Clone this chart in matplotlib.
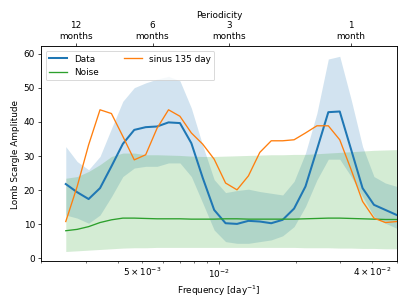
import matplotlib
matplotlib.use("Agg")
import matplotlib.pyplot as plt
from matplotlib.ticker import FixedLocator, FuncFormatter, NullLocator, LogLocator

# Frequencies [1/day]
freq = [0.002500, 0.002772, 0.003074, 0.003408, 0.003779, 0.004190, 0.004646,
        0.005152, 0.005712, 0.006334, 0.007023, 0.007787, 0.008634, 0.009574,
        0.010615, 0.011770, 0.013051, 0.014471, 0.016045, 0.017791, 0.019727,
        0.021873, 0.024253, 0.026892, 0.029818, 0.033062, 0.036659, 0.040648,
        0.045071, 0.050000]

data = [21.7, 19.3, 17.3, 20.5, 26.9, 33.5, 37.6, 38.4, 38.6, 39.8, 39.6,
        33.7, 23.5, 14.1, 10.2, 10.0, 10.9, 10.7, 10.2, 11.2, 14.5, 21.0,
        31.8, 42.8, 43.0, 31.8, 20.5, 15.6, 14.1, 12.6]
data_lo = [12.6, 11.7, 10.2, 12.6, 18.0, 23.9, 26.4, 26.9, 26.9, 27.9, 27.9,
           23.9, 16.1, 8.2, 4.8, 4.3, 4.3, 4.8, 5.3, 6.5, 9.2, 15.1,
           22.9, 29.0, 29.0, 23.9, 18.0, 12.2, 10.2, 8.7]
data_hi = [32.7, 28.3, 25.9, 29.8, 38.0, 46.0, 50.0, 51.4, 52.5, 53.3, 52.0,
           44.0, 33.0, 23.0, 19.2, 19.8, 20.2, 19.5, 19.0, 18.5, 22.5, 30.8,
           42.5, 58.4, 59.2, 46.5, 32.7, 23.9, 22.0, 21.0]

sinus = [10.7, 21.0, 33.2, 43.5, 42.4, 35.7, 28.8, 30.3, 38.1, 43.5, 41.6,
         36.7, 33.4, 29.0, 22.0, 20.0, 24.1, 31.0, 34.4, 34.4, 34.7, 36.7,
         38.8, 38.8, 34.7, 25.9, 16.6, 11.7, 10.4, 10.7]

noise = [8.0, 8.4, 9.2, 10.4, 11.2, 11.7, 11.7, 11.6, 11.5, 11.5, 11.5,
         11.4, 11.4, 11.4, 11.5, 11.5, 11.4, 11.4, 11.4, 11.4, 11.4, 11.5,
         11.6, 11.7, 11.7, 11.6, 11.5, 11.4, 11.3, 11.3]
noise_lo = [1.9, 2.1, 2.3, 2.5, 2.7, 2.9, 3.0, 3.0, 3.1, 3.1, 3.1,
            3.1, 3.1, 3.1, 3.1, 3.1, 3.1, 3.1, 3.1, 3.1, 3.1, 3.0,
            3.0, 3.0, 2.9, 2.9, 2.8, 2.8, 2.7, 2.7]
noise_hi = [23.4, 23.9, 25.4, 27.4, 29.8, 30.8, 30.8, 30.3, 30.3, 30.2, 30.1,
            29.9, 29.8, 29.8, 29.9, 30.0, 30.1, 30.2, 30.3, 30.3, 30.4, 30.4,
            30.6, 30.8, 31.0, 31.2, 31.4, 31.6, 31.7, 31.8]

period_ticks = [1/365.0, 1/182.5, 1/91.25, 1/30.4]
period_labels = ["12\nmonths", "6\nmonths", "3\nmonths", "1\nmonth"]

fig = plt.figure(figsize=(6.4, 4.8), dpi=63.6)
ax = fig.add_axes([0.101, 0.144, 0.874, 0.703])

ax.plot(freq, data, color="C0", lw=2.3, label="Data")
ax.fill_between(freq, data_lo, data_hi, color="C0", alpha=0.2, lw=0)
ax.plot(freq, noise, color="C2", lw=1.5, label="Noise")
ax.fill_between(freq, noise_lo, noise_hi, color="C2", alpha=0.2, lw=0)
ax.plot(freq, sinus, color="C1", lw=1.5, label="sinus 135 day")

ax.set_xscale("log")
ax.set_xlim(0.002, 0.05)
ax.set_ylim(-0.9, 62.1)
ax.set_yticks([0, 10, 20, 30, 40, 50, 60])

ax.xaxis.set_major_locator(FixedLocator([0.01]))
ax.xaxis.set_major_formatter(FuncFormatter(lambda v, p: r"$10^{-2}$"))
ax.xaxis.set_minor_locator(LogLocator(base=10, subs=range(2, 10)))
minor_lab = {5e-3: r"$5\times10^{-3}$", 4e-2: r"$4\times10^{-2}$"}
def minfmt(v, p):
    for k, s in minor_lab.items():
        if abs(v - k) / k < 1e-6:
            return s
    return ""
ax.xaxis.set_minor_formatter(FuncFormatter(minfmt))

ax.set_xlabel("Frequency [day$^{-1}$]")
ax.set_ylabel("Lomb Scargle Amplitude")
ax.legend(loc="upper left", ncol=2, columnspacing=2.9)

ax2 = ax.twiny()
ax2.set_xscale("log")
ax2.set_xlim(ax.get_xlim())
ax2.xaxis.set_major_locator(FixedLocator(period_ticks))
ax2.xaxis.set_minor_locator(NullLocator())
ax2.set_xticklabels(period_labels)
ax2.set_xlabel("Periodicity")

fig.savefig("out.png", dpi=63.6)
